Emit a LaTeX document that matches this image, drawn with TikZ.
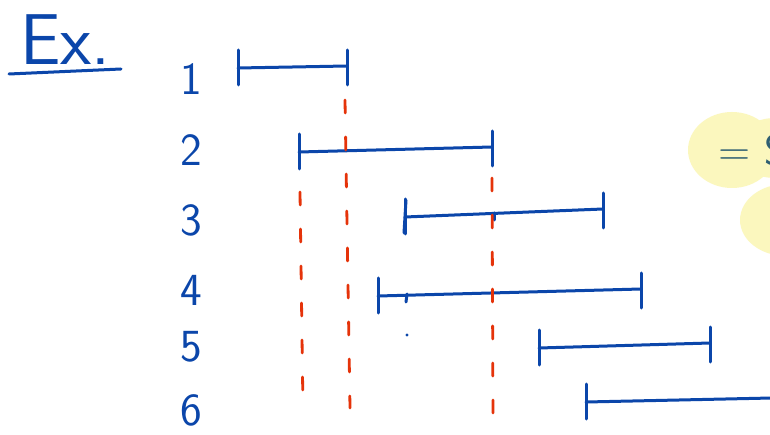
\documentclass[tikz,border=0pt]{standalone}
\usepackage{tikz}
\usetikzlibrary{positioning}

\definecolor{inkblue}{HTML}{0B46AA}
\definecolor{inkred}{HTML}{E5330A}
\definecolor{hilite}{HTML}{FBF7BE}
\definecolor{inkteal}{HTML}{2F5F72}

\begin{document}
\begin{tikzpicture}[x=1pt, y=-1pt,
    ivl/.style={draw=inkblue, line width=3pt, line cap=round},
    cut/.style={draw=inkred, line width=2.8pt, line cap=round, dash pattern=on 13pt off 24pt},
    num/.style={text=inkblue, font=\sffamily\fontsize{46}{50}\selectfont, inner sep=0pt},
    glow/.style={fill=hilite, draw=none}]
    \clip (0,0) rectangle (770,435);
    \fill[white] (0,0) rectangle (770,435);

    % highlighter on the right
    \fill[glow] (732,150) ellipse [x radius=44, y radius=38];
    \fill[glow] (775,148) ellipse [x radius=40, y radius=30];
    \fill[glow] (786,220) ellipse [x radius=46, y radius=36];
    \node[text=inkteal, font=\sffamily\fontsize{44}{48}\selectfont, anchor=west, inner sep=0pt] (res) at (718,150) {= S};

    % title
    \node[text=inkblue, font=\sffamily\fontsize{72}{76}\selectfont, anchor=west, inner sep=0pt] (title) at (20,40) {Ex.};
    \coordinate (ul1) at (9,74);
    \coordinate (ul2) at (121,69);
    \draw[ivl] (ul1) -- (ul2);

    % row numbers and intervals: index/start/end/y start/y end/label y
    \foreach \i/\a/\b/\ya/\yb/\yn in {1/238/347/68/66/79, 2/299/492/152/147/150, 3/405/603/217/209/220,
        4/378/641/296/289/290, 5/539/710/348/343/347, 6/586/772/402/398/410} {
        \node[num] (n\i) at (191,\yn) {\i};
        \coordinate (s\i) at (\a,\ya);
        \coordinate (e\i) at (\b,\yb);
        \draw[ivl] (s\i) -- (e\i);
        \draw[ivl] ([yshift=-17pt]s\i) -- ([yshift=18pt]s\i);
        \draw[ivl] ([yshift=-19pt]e\i) -- ([yshift=16pt]e\i);
    }
    % extra strokes
    \draw[ivl] ([xshift=-1pt,yshift=-16pt]s3) -- ([xshift=1pt,yshift=17pt]s3);
    \coordinate (k3) at (494,213);
    \draw[ivl] (k3) -- ++(0,7);
    \coordinate (k4) at (407,294);
    \draw[ivl] (k4) -- ++(-1,8);
    \coordinate (dot4) at (407,335);
    \fill[inkblue] (dot4) circle (1.6pt);

    % red cut lines
    \coordinate (c1a) at (300,192);
    \coordinate (c1b) at (303,410);
    \coordinate (c2a) at (345,100);
    \coordinate (c2b) at (350,408);
    \coordinate (c3a) at (492,178);
    \coordinate (c3b) at (493,413);
    \draw[cut] (c1a) -- (c1b);
    \draw[cut] (c2a) -- (c2b);
    \draw[cut] (c3a) -- (c3b);
\end{tikzpicture}
\end{document}
